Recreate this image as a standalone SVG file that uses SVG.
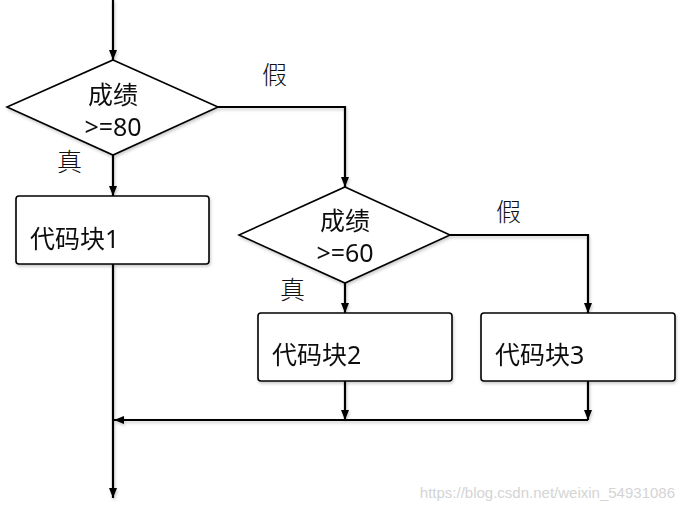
<svg xmlns="http://www.w3.org/2000/svg" width="682" height="510" viewBox="0 0 682 510">
<style>
.sh{fill:#fff;stroke:#000;stroke-width:1.6}
.ln{fill:none;stroke:#000;stroke-width:2.2}
.t{font-family:"Noto Sans","Noto Sans CJK SC",sans-serif;font-size:25px;fill:#111}
.lb{font-family:"Noto Sans CJK SC",sans-serif;font-size:25px;fill:#111;font-weight:300}
.wm{font-family:"Liberation Sans",sans-serif;font-size:15px;fill:#d4d4d4}
</style>
<defs>
<marker id="ah" viewBox="0 0 10 10" refX="10" refY="5" markerWidth="10" markerHeight="10" markerUnits="userSpaceOnUse" orient="auto">
<path d="M0,1 L10,5 L0,9 Z" fill="#000"/>
</marker>
<filter id="ds" x="-10%" y="-10%" width="120%" height="130%">
<feDropShadow dx="1" dy="2" stdDeviation="1.5" flood-color="#000" flood-opacity="0.2"/>
</filter>
</defs>
<g id="connectors" filter="url(#ds)">
<path class="ln" d="M113,0 V60" marker-end="url(#ah)"/>
<path class="ln" d="M218,107 H345 V187" marker-end="url(#ah)"/>
<path class="ln" d="M113,155 V196" marker-end="url(#ah)"/>
<path class="ln" d="M113,264 V498" marker-end="url(#ah)"/>
<path class="ln" d="M450,235 H588 V313" marker-end="url(#ah)"/>
<path class="ln" d="M345,283 V313" marker-end="url(#ah)"/>
<path class="ln" d="M345,381 V420" marker-end="url(#ah)"/>
<path class="ln" d="M588,381 V420" marker-end="url(#ah)"/>
<path class="ln" d="M588,420 H114" marker-end="url(#ah)"/>
</g>
<g id="d1" filter="url(#ds)">
<polygon class="sh" points="113,60 218,107 113,155 7,107"/>
<text class="t" x="113" y="104" text-anchor="middle">成绩</text>
<text class="t" x="113" y="136" text-anchor="middle">&gt;=80</text>
</g>
<g id="b1" filter="url(#ds)">
<rect class="sh" x="16" y="196" width="193" height="68" rx="3"/>
<text class="t" x="30" y="248">代码块1</text>
</g>
<g id="d2" filter="url(#ds)">
<polygon class="sh" points="345,187 450,235 345,283 239,235"/>
<text class="t" x="345" y="230" text-anchor="middle">成绩</text>
<text class="t" x="345" y="262" text-anchor="middle">&gt;=60</text>
</g>
<g id="b2" filter="url(#ds)">
<rect class="sh" x="258" y="313" width="194" height="68" rx="3"/>
<text class="t" x="272" y="364">代码块2</text>
</g>
<g id="b3" filter="url(#ds)">
<rect class="sh" x="481" y="313" width="194" height="68" rx="3"/>
<text class="t" x="495" y="364">代码块3</text>
</g>
<g id="labels">
<text class="lb" x="262" y="84">假</text>
<text class="lb" x="57" y="171">真</text>
<text class="lb" x="496" y="221">假</text>
<text class="lb" x="280" y="299">真</text>
</g>
<text class="wm" x="675" y="498" text-anchor="end">https://blog.csdn.net/weixin_54931086</text>
</svg>
